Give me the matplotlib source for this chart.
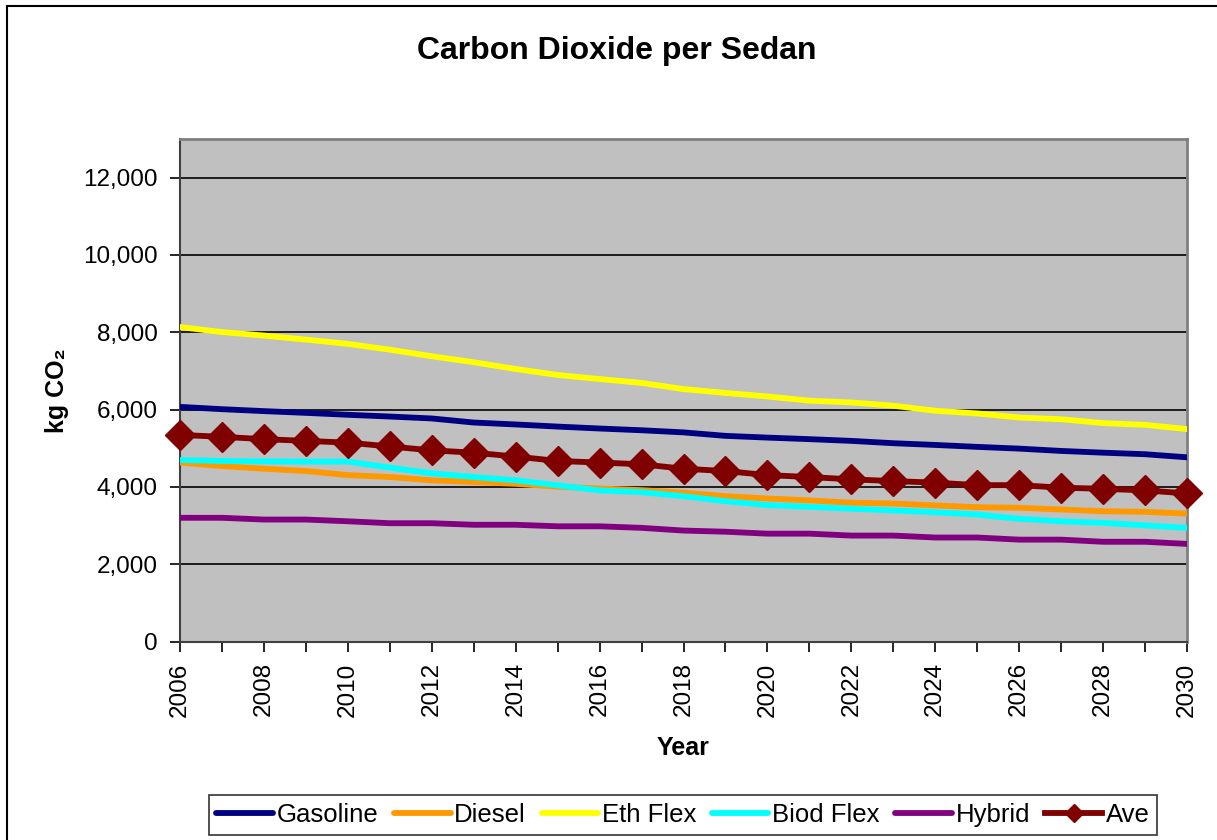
import numpy as np
import matplotlib
matplotlib.use("Agg")
import matplotlib.pyplot as plt
from matplotlib.patches import Rectangle
from matplotlib.ticker import FuncFormatter, MultipleLocator

plt.rcParams['font.family'] = ['Liberation Sans', 'DejaVu Sans']

years = list(range(2006, 2031))

gasoline = [6070, 6010, 5960, 5915, 5865, 5820, 5770, 5665, 5615, 5560, 5510, 5465, 5410,
            5320, 5275, 5235, 5190, 5130, 5085, 5035, 4990, 4930, 4885, 4845, 4765]
diesel = [4630, 4540, 4470, 4410, 4305, 4255, 4170, 4125, 4080, 4005, 3960, 3915, 3850,
          3760, 3700, 3650, 3590, 3570, 3520, 3475, 3460, 3415, 3370, 3355, 3310]
eth_flex = [8135, 8005, 7915, 7810, 7700, 7550, 7380, 7225, 7050, 6895, 6790, 6690, 6530,
            6430, 6340, 6230, 6185, 6100, 5970, 5900, 5795, 5750, 5650, 5605, 5495]
biod_flex = [4695, 4670, 4660, 4655, 4655, 4500, 4350, 4255, 4170, 4040, 3910, 3865, 3760,
             3630, 3530, 3485, 3435, 3390, 3345, 3285, 3175, 3110, 3070, 3005, 2940]
hybrid = [3200, 3200, 3155, 3155, 3110, 3060, 3060, 3020, 3020, 2980, 2980, 2940, 2870,
          2840, 2790, 2790, 2740, 2740, 2690, 2690, 2635, 2635, 2580, 2580, 2525]
ave = [5345, 5295, 5235, 5190, 5145, 5045, 4945, 4885, 4785, 4670, 4630, 4585, 4470,
       4410, 4305, 4255, 4195, 4150, 4110, 4045, 4045, 3980, 3950, 3910, 3830]

series = [
    ("Gasoline", gasoline, "#000080"),
    ("Diesel", diesel, "#FF9900"),
    ("Eth Flex", eth_flex, "#FFFF00"),
    ("Biod Flex", biod_flex, "#00FFFF"),
    ("Hybrid", hybrid, "#800080"),
]

fig = plt.figure(figsize=(12.17, 8.4), dpi=100)
ax = fig.add_axes([180 / 1217, 1 - 641.5 / 840, 1007 / 1217, 502.5 / 840])
ax.set_facecolor("#C0C0C0")

# outer chart border (runs off the right and bottom edges)
fig.patches.append(Rectangle((7 / 1217, -0.1), 1.2, 1 - 6 / 840 + 0.1,
                             transform=fig.transFigure, fill=False,
                             edgecolor="black", linewidth=1.5, zorder=0))

for name, vals, col in series:
    ax.plot(years, vals, color=col, linewidth=4.2, solid_capstyle="round",
            label=name, zorder=3)
ax.plot(years, ave, color="#800000", linewidth=4.2, marker="D", markersize=15,
        label="Ave", zorder=4, clip_on=False)

ax.set_xlim(2006, 2030)
ax.set_ylim(0, 13000)
ax.set_yticks(range(0, 13000, 2000))
ax.yaxis.set_major_formatter(FuncFormatter(lambda v, p: f"{int(v):,}"))
ax.xaxis.set_major_locator(MultipleLocator(2))
ax.xaxis.set_minor_locator(MultipleLocator(1))
ax.grid(axis="y", color="black", linewidth=1.2, zorder=1)
ax.set_axisbelow(True)

for s in ["top", "right"]:
    ax.spines[s].set_color("#808080")
    ax.spines[s].set_linewidth(2)
ax.spines["left"].set_color("#404040")
ax.spines["left"].set_linewidth(1.5)
ax.spines["bottom"].set_color("#404040")
ax.spines["bottom"].set_linewidth(1.5)

ax.tick_params(axis="y", labelsize=17.5, length=7, width=1.2, pad=9)
ax.tick_params(axis="x", which="both", length=7, width=1.2, labelsize=17.5,
               labelrotation=90, pad=8)

ax.set_xlabel("Year", fontsize=18, fontweight="bold", labelpad=14)
ax.set_ylabel("kg CO\u2082", fontsize=18, fontweight="bold", labelpad=10)

fig.text(617 / 1217, 1 - 51 / 840, "Carbon Dioxide per Sedan", ha="center",
         va="center", fontsize=23, fontweight="bold")

leg = fig.legend(loc="center", bbox_to_anchor=(683 / 1217, 1 - 815 / 840),
                 ncol=6, fontsize=18.5, frameon=True, fancybox=False,
                 edgecolor="black", handlelength=2.2, handletextpad=0.15,
                 columnspacing=0.6, borderpad=0.3, borderaxespad=0,
                 markerscale=0.6)
leg.get_frame().set_linewidth(1.2)

fig.savefig("out.png", dpi=100)
